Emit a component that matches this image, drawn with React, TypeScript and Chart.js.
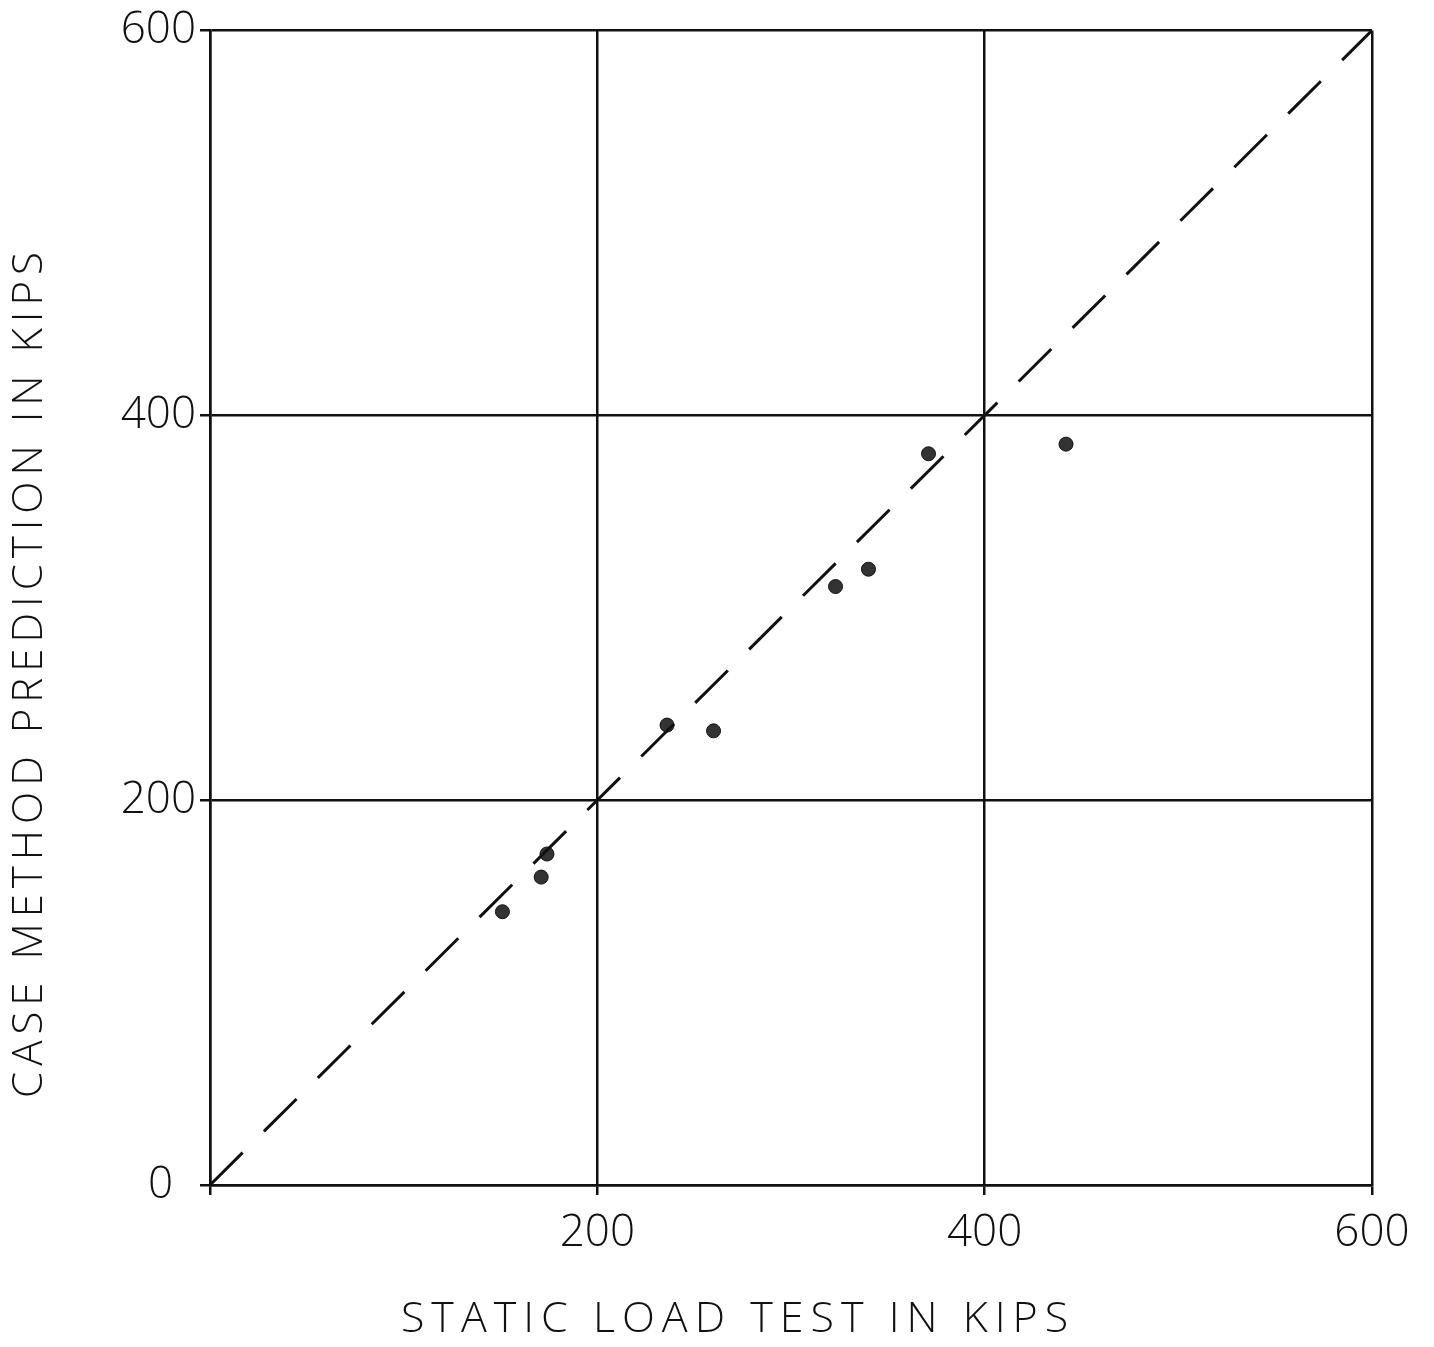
import React, { useEffect, useRef } from "react";
import { Chart, registerables } from "chart.js";

Chart.register(...registerables);

const staticLoad = [151, 171, 174, 236, 260, 323, 340, 371, 442];
const casePrediction = [142, 160, 172, 239, 236, 311, 320, 380, 385];
const lineX = [0, 600];
const lineY = [0, 600];
const xTicks = [200, 400, 600];
const yTicks = [0, 200, 400, 600];
const xTitle = "STATIC LOAD TEST IN KIPS";
const yTitle = "CASE METHOD PREDICTION IN KIPS";

const FONT = "'Open Sans', 'DejaVu Sans', sans-serif";

const titlePlugin = {
  id: "titles",
  afterDraw(chart: any) {
    const ctx = chart.ctx as CanvasRenderingContext2D;
    ctx.save();
    ctx.fillStyle = "#111";
    ctx.font = `300 43px ${FONT}`;
    (ctx as any).letterSpacing = "7px";
    ctx.textAlign = "center";
    ctx.textBaseline = "middle";
    ctx.fillText(xTitle, 738, 1320);
    ctx.font = `300 42px ${FONT}`;
    (ctx as any).letterSpacing = "6px";
    ctx.translate(30, 672);
    ctx.rotate(-Math.PI / 2);
    ctx.fillText(yTitle, 0, 0);
    ctx.restore();
  },
};

export default function App() {
  const ref = useRef<HTMLCanvasElement | null>(null);
  useEffect(() => {
    document.body.style.margin = "0";
    const pts = staticLoad.map((x, i) => ({ x, y: casePrediction[i] }));
    const line = lineX.map((x, i) => ({ x, y: lineY[i] }));
    const chart = new Chart(ref.current!, {
      type: "scatter",
      data: {
        datasets: [
          {
            data: line,
            showLine: true,
            borderColor: "#111",
            borderWidth: 3,
            borderDash: [46, 30],
            pointRadius: 0,
          },
          {
            data: pts,
            backgroundColor: "#333",
            borderColor: "#111",
            borderWidth: 1,
            pointRadius: 7,
          },
        ],
      },
      options: {
        animation: false,
        responsive: false,
        layout: { padding: { top: 27, right: 62, left: 0, bottom: 0 } },
        plugins: { legend: { display: false }, tooltip: { enabled: false } },
        scales: {
          x: {
            type: "linear",
            min: 0,
            max: 600,
            afterBuildTicks: (s: any) => {
              s.ticks = [0, ...xTicks].map((v) => ({ value: v }));
            },
            ticks: {
              callback: (v: any) => (v === 0 ? "" : String(v)),
              color: "#111",
              font: { family: FONT, size: 44, weight: "300" },
              padding: 12,
              maxRotation: 0,
            },
            grid: { color: "#111", lineWidth: 2.5, tickLength: 10 },
            border: { color: "#111", width: 2.5 },
            afterFit: (s: any) => {
              s.height = 1347 - 1185;
            },
          },
          y: {
            type: "linear",
            min: 0,
            max: 600,
            afterBuildTicks: (s: any) => {
              s.ticks = yTicks.map((v) => ({ value: v }));
            },
            ticks: {
              callback: (v: any) => (v === 0 ? "0  " : String(v)),
              color: "#111",
              font: { family: FONT, size: 44, weight: "300" },
              padding: 4,
            },
            grid: { color: "#111", lineWidth: 2.5, tickLength: 10 },
            border: { color: "#111", width: 2.5 },
            afterFit: (s: any) => {
              s.width = 210;
            },
          },
        },
      },
      plugins: [titlePlugin],
    } as any);
    return () => chart.destroy();
  }, []);
  return (
    <div style={{ position: "absolute", left: 0, top: 0, width: 1434, height: 1347, background: "#fff" }}>
      <canvas ref={ref} width={1434} height={1347} style={{ display: "block" }} />
    </div>
  );
}
